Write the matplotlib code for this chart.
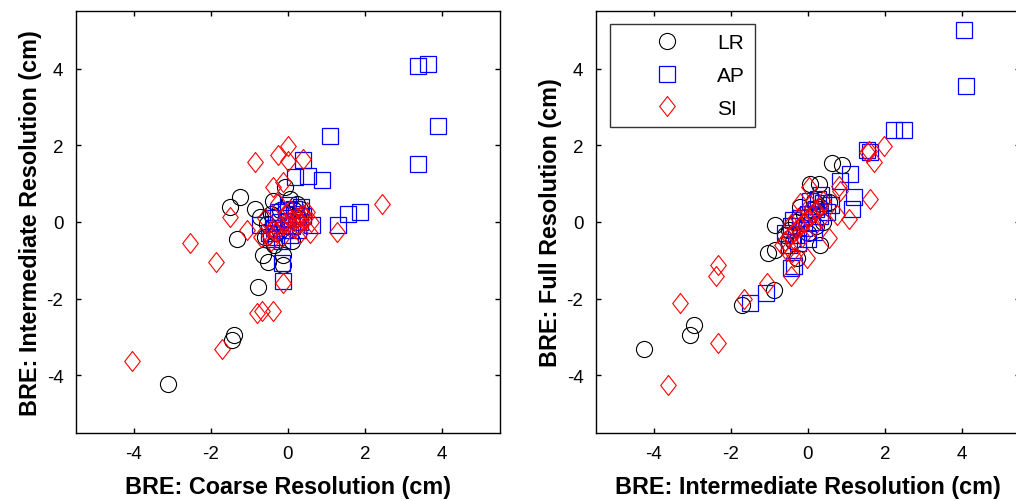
import matplotlib
matplotlib.use("Agg")
import matplotlib.pyplot as plt
from matplotlib.path import Path

plt.rcParams['font.family'] = ['Liberation Sans', 'DejaVu Sans']
plt.rcParams['axes.unicode_minus'] = False

# ---- Coarse vs Intermediate ----
lr_coarse = [-3.12, -1.40, -1.45, -0.78, -1.25, -1.50, -1.33, -0.86, -0.65, -0.52,
             -0.13, -0.13, -0.08, -0.39, -0.73, 0.23, -0.55, -0.35, 0.10, 0.25,
             -0.20, 0.00, -0.45, 0.15, -0.30, 0.05, 0.30, -0.60]
lr_inter_a = [-4.22, -2.95, -3.08, -1.70, 0.64, 0.40, -0.45, 0.35, -0.87, -1.03,
              -0.87, -1.13, 0.92, 0.56, 0.14, 0.48, -0.05, -0.60, -0.50, 0.10,
              0.30, -0.20, 0.20, 0.30, -0.30, 0.60, 0.35, -0.40]

ap_coarse = [3.38, 3.64, 3.90, 3.38, 1.09, 0.88, 0.52, 0.39, 0.18, 1.87,
             1.56, 1.30, -0.13, -0.16, 0.62, -0.73, -0.50, -0.40, -0.30, -0.20,
             -0.10, 0.00, 0.10, 0.20, 0.30, -0.25, 0.05, 0.15, -0.05, 0.25,
             -0.35, 0.40, -0.15, 0.00, 0.35, -0.45]
ap_inter_a = [4.07, 4.12, 2.50, 1.52, 2.25, 1.10, 1.21, 1.62, 1.18, 0.27,
              0.22, -0.09, -1.55, -1.08, -0.09, -0.09, -0.30, 0.10, -0.40, 0.00,
              -0.20, 0.10, -0.10, 0.20, 0.00, 0.25, -0.35, 0.35, 0.30, -0.20,
              -0.15, 0.15, -0.50, 0.45, 0.40, -0.45]

si_coarse = [-4.05, -1.71, -2.55, -1.87, -1.50, -1.06, -0.86, -0.26, 0.00, 0.00,
             0.39, -0.39, -0.13, 1.27, 0.57, -0.13, -0.81, -0.68, -0.39, 2.44,
             -0.70, -0.50, -0.40, -0.30, -0.20, -0.10, 0.00, 0.10, 0.20, 0.30,
             0.40, 0.50, 0.15, 0.25, 0.35, 0.45, -0.05, 0.05, -0.25, -0.45,
             0.60, 0.30, -0.60, -0.15]
si_inter_a = [-3.62, -3.31, -0.56, -1.03, 0.12, -0.22, 1.57, 1.75, 1.99, 1.60,
              1.65, 0.92, 1.05, -0.25, -0.30, -1.60, -2.37, -2.32, -2.32, 0.48,
              -0.40, -0.35, -0.20, -0.25, -0.10, -0.05, 0.00, 0.05, 0.10, 0.15,
              0.20, 0.25, -0.15, -0.05, 0.00, 0.10, 0.20, 0.30, 0.50, -0.50,
              0.00, -0.30, 0.10, -0.40]

# ---- Intermediate vs Full ----
lr_inter_b = [-4.25, -2.95, -3.06, -1.70, -0.88, -1.03, -0.86, 0.62, 0.88, 0.05,
              0.28, -0.85, 0.31, 0.54, -0.28, -0.50, -0.30, -0.10, 0.10, 0.30,
              -0.40, 0.20, 0.00, -0.20, 0.40, -0.60, 0.15]
lr_full = [-3.31, -2.69, -2.95, -2.17, -1.78, -0.82, -0.74, 1.55, 1.49, 1.00,
           1.00, -0.09, -0.61, 0.53, -0.95, -0.20, 0.00, 0.20, 0.30, 0.40,
           -0.50, -0.10, -0.30, 0.40, 0.00, -0.35, 0.55]

ap_inter_b = [4.05, 4.09, 2.23, 2.49, 1.53, 1.61, 1.09, 1.19, 1.14, 0.83,
              -1.50, -1.09, -0.44, -0.36, -0.60, -0.45, -0.30, -0.20, -0.10, 0.00,
              0.10, 0.20, 0.30, 0.40, -0.25, 0.05, 0.50, -0.40, 0.15, 0.35,
              0.60, -0.50, 0.00, 0.25]
ap_full = [5.00, 3.55, 2.40, 2.40, 1.88, 1.83, 1.26, 0.64, 0.35, 1.08,
           -2.12, -1.86, -1.21, -1.16, -0.30, -0.10, -0.35, 0.10, -0.15, 0.20,
           0.00, 0.35, 0.15, 0.50, -0.55, 0.55, 0.25, 0.05, -0.25, 0.70,
           0.45, -0.60, -0.45, 0.60]

si_inter_b = [-3.63, -2.33, -3.32, -2.38, -2.33, -1.66, -1.06, -0.44, 0.03, 0.80,
              0.75, 1.06, 1.61, 0.54, -0.03, 1.58, 1.97, 1.71, 1.53, 0.83,
              -0.60, -0.50, -0.40, -0.30, -0.20, -0.10, 0.00, 0.10, 0.20, 0.30,
              -0.25, 0.15, 0.35, -0.45, 0.05, -0.15, 0.40, -0.55, -0.35, -0.20,
              -0.41, -0.67]
si_full = [-4.25, -3.16, -2.12, -1.42, -1.13, -2.00, -1.60, -1.42, 0.92, 0.95,
           0.17, 0.09, 0.61, -0.43, -0.95, 1.86, 1.99, 1.57, 1.83, 0.82,
           -0.50, -0.40, -0.30, -0.20, -0.10, 0.00, 0.10, 0.20, 0.30, 0.40,
           0.10, -0.10, 0.10, -0.05, 0.45, -0.40, 0.55, -0.75, -0.90, 0.50,
           -0.77, -0.61]

ticks = [-4, -2, 0, 2, 4]
series_names = ['LR', 'AP', 'SI']

# tall diamond outline
diamond = Path([(0, 1), (0.78, 0), (0, -1), (-0.78, 0), (0, 1)],
               [Path.MOVETO, Path.LINETO, Path.LINETO, Path.LINETO, Path.CLOSEPOLY])

styles = [
    dict(marker='o', ms=11.6, mec='black', mew=0.8),
    dict(marker='s', ms=11.8, mec='#0000ff', mew=0.9),
    dict(marker=diamond, ms=14.4, mec='#ff0000', mew=0.8),
]

fig = plt.figure(figsize=(10.16, 5.02), dpi=100)
ax1 = fig.add_axes([0.0748, 0.1355, 0.4173, 0.8406])
ax2 = fig.add_axes([0.5866, 0.1355, 0.4173, 0.8406])

panels = [
    (ax1, [(lr_coarse, lr_inter_a), (ap_coarse, ap_inter_a), (si_coarse, si_inter_a)],
     'BRE: Coarse Resolution (cm)', 'BRE: Intermediate Resolution (cm)'),
    (ax2, [(lr_inter_b, lr_full), (ap_inter_b, ap_full), (si_inter_b, si_full)],
     'BRE: Intermediate Resolution (cm)', 'BRE: Full Resolution (cm)'),
]

for ax, data, xl, yl in panels:
    for (xs, ys), st, name in zip(data, styles, series_names):
        ax.plot(xs, ys, linestyle='none', mfc='none', label=name, **st)
    ax.set_xlim(-5.5, 5.5)
    ax.set_ylim(-5.5, 5.5)
    ax.set_xticks(ticks)
    ax.set_yticks(ticks)
    ax.tick_params(direction='in', top=True, right=True, length=3.5, width=1,
                   labelsize=13.5, pad=9)
    for sp in ax.spines.values():
        sp.set_linewidth(1)
    ax.set_xlabel(xl, fontsize=16.8, fontweight='bold', labelpad=9)
    ax.set_ylabel(yl, fontsize=16.8, fontweight='bold', labelpad=3)

leg = ax2.legend(loc='upper left', bbox_to_anchor=(0.033, 0.969), fontsize=15,
                 frameon=True, fancybox=False, borderpad=0.45, handlelength=4.6,
                 handletextpad=0.1, labelspacing=0.65, borderaxespad=0)
leg.get_frame().set_edgecolor('black')
leg.get_frame().set_linewidth(1)

fig.savefig('out.png', dpi=100)
